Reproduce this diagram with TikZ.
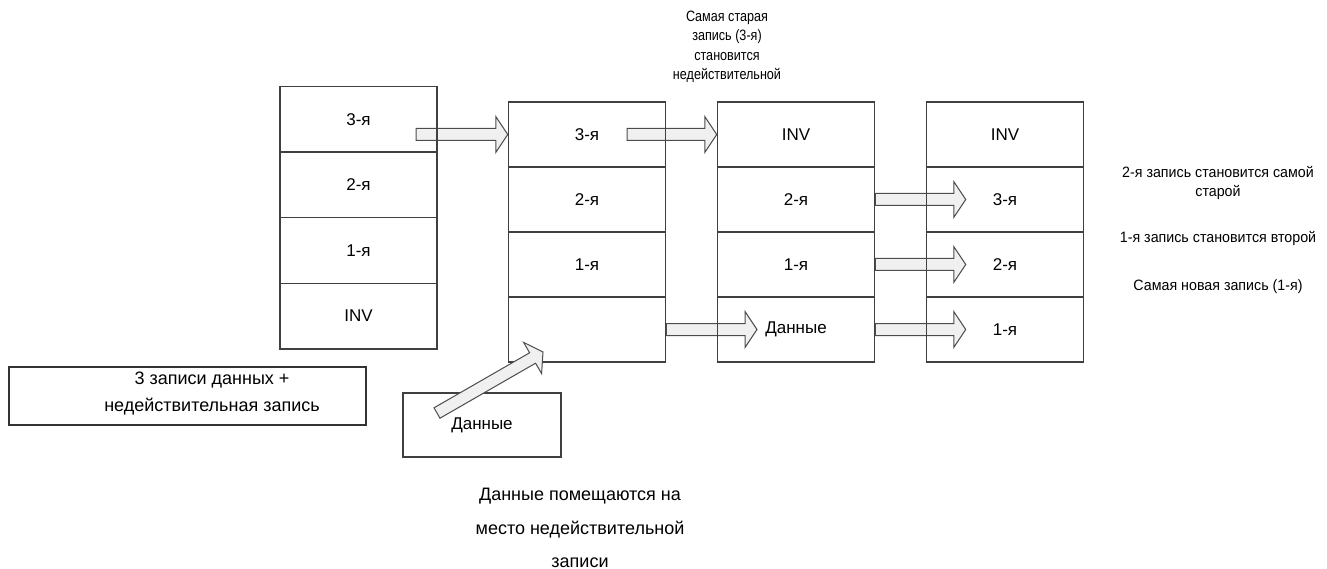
\documentclass[tikz,border=0pt]{standalone}
\usepackage{fontspec}
\setmainfont{Liberation Sans}
\newfontfamily\narrowsans{Liberation Sans}[FakeStretch=0.84]
\newfontfamily\slimsans{Liberation Sans}[FakeStretch=0.95]
\usetikzlibrary{calc,backgrounds}

\tikzset{
  cell/.style={draw=black!75, line width=1.5pt, minimum width=157pt,
    minimum height=65pt, inner sep=0pt, font=\fontsize{17}{20}\selectfont},
  blockarrow/.style={draw=black!70, line width=1pt, fill=black!6, line join=miter},
  remark/.style={align=center, font=\slimsans\fontsize{15}{19.5}\selectfont},
}

% fat hollow arrow from #1 to #2
\newcommand\blockarrow[2]{%
  \path[blockarrow] let \p1=(#1), \p2=(#2),
      \n1={atan2(\y2-\y1,\x2-\x1)}, \n2={veclen(\x2-\x1,\y2-\y1)} in
    ($(\p1)+(\n1-90:6pt)$)
    -- ($(\p1)+(\n1:{\n2-12pt})+(\n1-90:6pt)$)
    -- ($(\p1)+(\n1:{\n2-12pt})+(\n1-90:18pt)$)
    -- (\p2)
    -- ($(\p1)+(\n1:{\n2-12pt})+(\n1+90:18pt)$)
    -- ($(\p1)+(\n1:{\n2-12pt})+(\n1+90:6pt)$)
    -- ($(\p1)+(\n1+90:6pt)$) -- cycle;}

\begin{document}
\begin{tikzpicture}[x=1pt, y=-1pt]
    \useasboundingbox (0,0) rectangle (1327,569);

    % first column
    \node [cell, minimum height=65.5pt] (a3) at (358.5,119.5) {3-я};
    \node [cell, minimum height=65.5pt] (a2) at (358.5,185) {2-я};
    \node [cell, minimum height=65.5pt] (a1) at (358.5,250.5) {1-я};
    \node [cell, minimum height=65.5pt] (a0) at (358.5,316) {INV};

    % second column
    \node [cell] (b3) at (587,134.5) {3-я};
    \node [cell] (b2) at (587,199.5) {2-я};
    \node [cell] (b1) at (587,264.5) {1-я};
    \node [cell] (b0) at (587,329.5) {};

    % third column
    \node [cell] (c3) at (796,134.5) {INV};
    \node [cell] (c2) at (796,199.5) {2-я};
    \node [cell] (c1) at (796,264.5) {1-я};
    \node [cell] (c0) at (796,329.5) {Данные};

    % fourth column
    \node [cell] (d3) at (1005,134.5) {INV};
    \node [cell] (d2) at (1005,199.5) {3-я};
    \node [cell] (d1) at (1005,264.5) {2-я};
    \node [cell] (d0) at (1005,329.5) {1-я};

    \node [draw=black!80, line width=2pt, minimum width=357pt, minimum height=57.5pt] (notebox) at (187.5,396) {};
    \node [align=center, font=\fontsize{18}{27}\selectfont] (note) at (212,394) {3 записи данных +\\недействительная запись};
    \node [cell, line width=2pt, minimum width=158pt, minimum height=64pt] (data) at (482,425) {Данные};

    \node [remark, font=\narrowsans\fontsize{15}{19.5}\selectfont] (oldest) at (727,47) {Самая старая\\запись (3-я)\\становится\\недействительной};
    \node [remark] (r2) at (1218,183) {2-я запись становится самой\\старой};
    \node [remark] (r1) at (1218,238) {1-я запись становится второй};
    \node [remark] (r0) at (1218,287) {Самая новая запись (1-я)};
    \node [align=center, font=\fontsize{18}{33.5}\selectfont] (placed) at (580,528) {Данные помещаются на\\место недействительной\\записи};

    \coordinate (t1) at (416,134.5);
    \coordinate (t2) at (627,134.5);
    \coordinate (h3) at (757,329.5);
    \coordinate (h4) at ($(d2.west)+(40,0)$);
    \coordinate (h5) at ($(d1.west)+(40,0)$);
    \coordinate (h6) at ($(d0.west)+(40,0)$);
    \coordinate (t7) at (437,413);
    \coordinate (h7) at (543,352);

    \begin{pgfonlayer}{background}
        \blockarrow{t1}{b3.west}
        \blockarrow{t2}{c3.west}
        \blockarrow{b0.east}{h3}
        \blockarrow{c2.east}{h4}
        \blockarrow{c1.east}{h5}
        \blockarrow{c0.east}{h6}
    \end{pgfonlayer}
    \blockarrow{t7}{h7}
\end{tikzpicture}
\end{document}
